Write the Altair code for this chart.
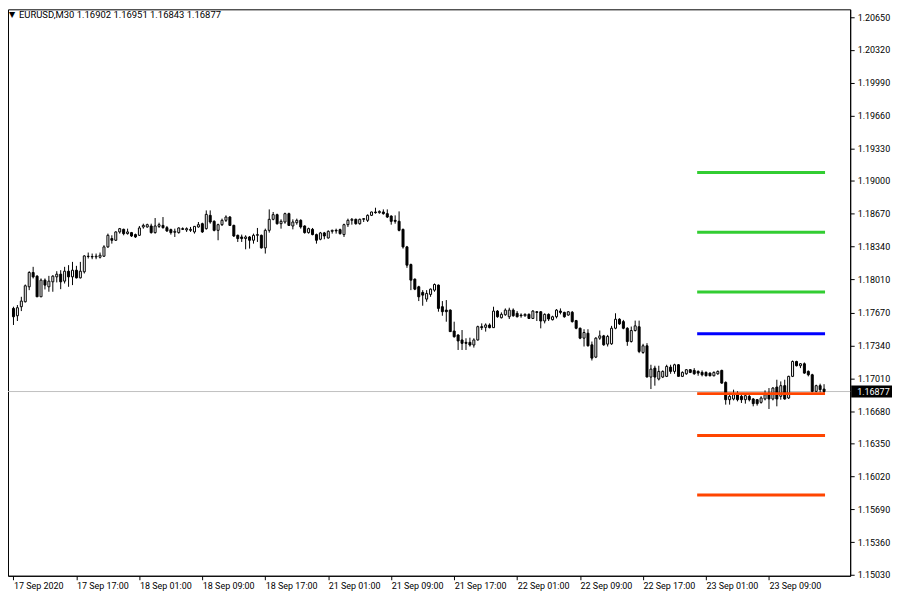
import altair as alt
import pandas as pd

symbol = "EURUSD,M30"

open_ = [
    1.17715, 1.17641, 1.17732, 1.17782, 1.17933, 1.18077, 1.18040, 1.17832, 1.18000, 1.17933,
    1.17983, 1.18033, 1.18060, 1.17990, 1.18090, 1.18033, 1.18100, 1.18023, 1.18084, 1.18238,
    1.18238, 1.18234, 1.18231, 1.18241, 1.18335, 1.18419, 1.18402, 1.18486, 1.18512, 1.18469,
    1.18479, 1.18459, 1.18452, 1.18536, 1.18536, 1.18546, 1.18479, 1.18542, 1.18552, 1.18529,
    1.18509, 1.18482, 1.18479, 1.18519, 1.18506, 1.18502, 1.18486, 1.18536, 1.18569, 1.18519,
    1.18653, 1.18593, 1.18502, 1.18559, 1.18603, 1.18636, 1.18552, 1.18452, 1.18435, 1.18419,
    1.18435, 1.18402, 1.18452, 1.18452, 1.18325, 1.18502, 1.18613, 1.18660, 1.18569, 1.18586,
    1.18670, 1.18546, 1.18579, 1.18603, 1.18546, 1.18479, 1.18512, 1.18459, 1.18412, 1.18476,
    1.18425, 1.18492, 1.18502, 1.18509, 1.18459, 1.18559, 1.18603, 1.18613, 1.18569, 1.18613,
    1.18603, 1.18653, 1.18687, 1.18680, 1.18687, 1.18670, 1.18646, 1.18603, 1.18593, 1.18512,
    1.18335, 1.18157, 1.18010, 1.17933, 1.17876, 1.17809, 1.17856, 1.17899, 1.17950, 1.17732,
    1.17698, 1.17698, 1.17487, 1.17447, 1.17397, 1.17373, 1.17373, 1.17346, 1.17397, 1.17531,
    1.17524, 1.17548, 1.17521, 1.17688, 1.17621, 1.17651, 1.17631, 1.17698, 1.17665, 1.17648,
    1.17641, 1.17655, 1.17614, 1.17681, 1.17681, 1.17588, 1.17655, 1.17601, 1.17631, 1.17688,
    1.17675, 1.17648, 1.17676, 1.17592, 1.17515, 1.17415, 1.17465, 1.17348, 1.17224, 1.17415,
    1.17438, 1.17355, 1.17358, 1.17515, 1.17606, 1.17582, 1.17515, 1.17381, 1.17492, 1.17530,
    1.17271, 1.17338, 1.17023, 1.17113, 1.17003, 1.17023, 1.17030, 1.17123, 1.17080, 1.17147,
    1.17030, 1.17056, 1.17097, 1.17090, 1.17080, 1.17070, 1.17070, 1.17063, 1.17036, 1.17056,
    1.17090, 1.16969, 1.16795, 1.16802, 1.16845, 1.16829, 1.16795, 1.16829, 1.16802, 1.16795,
    1.16768, 1.16802, 1.16862, 1.16802, 1.16922, 1.16829, 1.16936, 1.16812, 1.17030, 1.17180,
    1.17137, 1.17157, 1.17080, 1.17046, 1.16879, 1.16936, 1.16902,
]
high = [
    1.17732, 1.17749, 1.17832, 1.17956, 1.18090, 1.18134, 1.18050, 1.18017, 1.18017, 1.18043,
    1.18050, 1.18090, 1.18100, 1.18134, 1.18151, 1.18184, 1.18144, 1.18184, 1.18251, 1.18278,
    1.18268, 1.18268, 1.18278, 1.18352, 1.18469, 1.18452, 1.18492, 1.18526, 1.18519, 1.18519,
    1.18486, 1.18469, 1.18546, 1.18569, 1.18569, 1.18569, 1.18626, 1.18579, 1.18636, 1.18546,
    1.18519, 1.18519, 1.18532, 1.18532, 1.18532, 1.18536, 1.18546, 1.18586, 1.18579, 1.18703,
    1.18703, 1.18603, 1.18569, 1.18620, 1.18653, 1.18646, 1.18559, 1.18459, 1.18459, 1.18452,
    1.18445, 1.18469, 1.18526, 1.18459, 1.18519, 1.18713, 1.18687, 1.18670, 1.18613, 1.18680,
    1.18680, 1.18613, 1.18620, 1.18613, 1.18552, 1.18529, 1.18526, 1.18469, 1.18486, 1.18486,
    1.18502, 1.18509, 1.18519, 1.18519, 1.18569, 1.18620, 1.18626, 1.18620, 1.18620, 1.18626,
    1.18663, 1.18690, 1.18730, 1.18703, 1.18713, 1.18713, 1.18653, 1.18653, 1.18693, 1.18519,
    1.18345, 1.18167, 1.18017, 1.17943, 1.17899, 1.17899, 1.17916, 1.17966, 1.17956, 1.17789,
    1.17799, 1.17705, 1.17581, 1.17454, 1.17497, 1.17414, 1.17420, 1.17414, 1.17541, 1.17564,
    1.17564, 1.17564, 1.17732, 1.17698, 1.17675, 1.17715, 1.17722, 1.17715, 1.17688, 1.17665,
    1.17665, 1.17665, 1.17698, 1.17688, 1.17688, 1.17665, 1.17665, 1.17641, 1.17708, 1.17715,
    1.17681, 1.17688, 1.17689, 1.17599, 1.17522, 1.17505, 1.17505, 1.17381, 1.17425, 1.17492,
    1.17448, 1.17448, 1.17539, 1.17666, 1.17616, 1.17599, 1.17525, 1.17532, 1.17592, 1.17592,
    1.17358, 1.17365, 1.17147, 1.17137, 1.17137, 1.17090, 1.17147, 1.17147, 1.17157, 1.17153,
    1.17080, 1.17103, 1.17103, 1.17113, 1.17090, 1.17090, 1.17080, 1.17070, 1.17080, 1.17090,
    1.17097, 1.16979, 1.16845, 1.16896, 1.16879, 1.16845, 1.16845, 1.16845, 1.16812, 1.16802,
    1.16829, 1.16889, 1.16912, 1.16922, 1.16996, 1.16979, 1.16996, 1.17036, 1.17190, 1.17187,
    1.17164, 1.17170, 1.17090, 1.17056, 1.16946, 1.16956, 1.16951,
]
low = [
    1.17548, 1.17588, 1.17688, 1.17775, 1.17899, 1.18017, 1.17832, 1.17832, 1.17906, 1.17883,
    1.17883, 1.17977, 1.17909, 1.17966, 1.17933, 1.17950, 1.18017, 1.18017, 1.18067, 1.18218,
    1.18211, 1.18211, 1.18218, 1.18234, 1.18325, 1.18368, 1.18395, 1.18469, 1.18452, 1.18459,
    1.18435, 1.18425, 1.18445, 1.18519, 1.18529, 1.18469, 1.18469, 1.18526, 1.18519, 1.18486,
    1.18459, 1.18435, 1.18469, 1.18506, 1.18486, 1.18486, 1.18469, 1.18529, 1.18476, 1.18509,
    1.18569, 1.18492, 1.18402, 1.18546, 1.18586, 1.18546, 1.18435, 1.18385, 1.18385, 1.18311,
    1.18318, 1.18368, 1.18385, 1.18318, 1.18268, 1.18479, 1.18603, 1.18559, 1.18519, 1.18569,
    1.18546, 1.18512, 1.18559, 1.18519, 1.18469, 1.18469, 1.18452, 1.18368, 1.18402, 1.18412,
    1.18419, 1.18469, 1.18469, 1.18459, 1.18435, 1.18536, 1.18559, 1.18559, 1.18559, 1.18586,
    1.18586, 1.18646, 1.18670, 1.18670, 1.18660, 1.18626, 1.18559, 1.18569, 1.18492, 1.18318,
    1.18124, 1.17899, 1.17899, 1.17789, 1.17742, 1.17782, 1.17832, 1.17883, 1.17682, 1.17641,
    1.17581, 1.17481, 1.17420, 1.17296, 1.17296, 1.17296, 1.17330, 1.17320, 1.17390, 1.17497,
    1.17481, 1.17514, 1.17521, 1.17621, 1.17614, 1.17641, 1.17608, 1.17631, 1.17624, 1.17621,
    1.17631, 1.17608, 1.17608, 1.17588, 1.17514, 1.17564, 1.17588, 1.17594, 1.17614, 1.17655,
    1.17621, 1.17641, 1.17572, 1.17505, 1.17405, 1.17331, 1.17331, 1.17190, 1.17214, 1.17398,
    1.17338, 1.17331, 1.17348, 1.17505, 1.17549, 1.17505, 1.17338, 1.17371, 1.17482, 1.17264,
    1.17257, 1.17023, 1.16902, 1.16936, 1.16989, 1.17013, 1.17023, 1.17056, 1.17056, 1.17030,
    1.17023, 1.17046, 1.17063, 1.17046, 1.17036, 1.17030, 1.17030, 1.17030, 1.17030, 1.17046,
    1.16956, 1.16745, 1.16745, 1.16788, 1.16778, 1.16762, 1.16755, 1.16778, 1.16728, 1.16735,
    1.16755, 1.16788, 1.16701, 1.16788, 1.16728, 1.16795, 1.16795, 1.16802, 1.17023, 1.17130,
    1.17113, 1.17056, 1.17030, 1.16869, 1.16869, 1.16869, 1.16843,
]
close = [
    1.17631, 1.17722, 1.17789, 1.17943, 1.18077, 1.18033, 1.17832, 1.18000, 1.17950, 1.17990,
    1.18040, 1.18060, 1.17983, 1.18090, 1.18033, 1.18100, 1.18023, 1.18090, 1.18244, 1.18241,
    1.18234, 1.18241, 1.18251, 1.18335, 1.18452, 1.18402, 1.18486, 1.18519, 1.18469, 1.18486,
    1.18445, 1.18435, 1.18526, 1.18552, 1.18559, 1.18479, 1.18546, 1.18559, 1.18529, 1.18496,
    1.18479, 1.18492, 1.18526, 1.18512, 1.18519, 1.18512, 1.18542, 1.18559, 1.18486, 1.18663,
    1.18586, 1.18502, 1.18559, 1.18603, 1.18636, 1.18552, 1.18445, 1.18419, 1.18419, 1.18435,
    1.18402, 1.18452, 1.18459, 1.18325, 1.18502, 1.18613, 1.18660, 1.18569, 1.18593, 1.18670,
    1.18552, 1.18586, 1.18603, 1.18536, 1.18479, 1.18519, 1.18459, 1.18402, 1.18476, 1.18445,
    1.18492, 1.18502, 1.18496, 1.18469, 1.18559, 1.18603, 1.18613, 1.18569, 1.18613, 1.18620,
    1.18653, 1.18687, 1.18680, 1.18693, 1.18670, 1.18636, 1.18593, 1.18593, 1.18502, 1.18335,
    1.18151, 1.18000, 1.17909, 1.17832, 1.17849, 1.17866, 1.17909, 1.17956, 1.17715, 1.17682,
    1.17682, 1.17481, 1.17430, 1.17387, 1.17363, 1.17363, 1.17346, 1.17397, 1.17531, 1.17521,
    1.17548, 1.17521, 1.17688, 1.17631, 1.17655, 1.17698, 1.17698, 1.17641, 1.17631, 1.17641,
    1.17655, 1.17614, 1.17688, 1.17675, 1.17588, 1.17655, 1.17608, 1.17631, 1.17698, 1.17675,
    1.17631, 1.17681, 1.17582, 1.17515, 1.17415, 1.17472, 1.17338, 1.17214, 1.17415, 1.17438,
    1.17348, 1.17432, 1.17515, 1.17606, 1.17559, 1.17515, 1.17381, 1.17492, 1.17539, 1.17281,
    1.17338, 1.17023, 1.17103, 1.17023, 1.17080, 1.17080, 1.17130, 1.17080, 1.17147, 1.17030,
    1.17070, 1.17097, 1.17070, 1.17056, 1.17063, 1.17046, 1.17036, 1.17036, 1.17070, 1.17080,
    1.16962, 1.16795, 1.16829, 1.16845, 1.16795, 1.16795, 1.16835, 1.16795, 1.16755, 1.16755,
    1.16812, 1.16845, 1.16802, 1.16912, 1.16802, 1.16936, 1.16802, 1.17030, 1.17180, 1.17137,
    1.17157, 1.17063, 1.17046, 1.16879, 1.16936, 1.16896, 1.16877,
]

time_labels = [
    "17 Sep 2020", "17 Sep 17:00", "18 Sep 01:00", "18 Sep 09:00", "18 Sep 17:00",
    "21 Sep 01:00", "21 Sep 09:00", "21 Sep 17:00", "22 Sep 01:00", "22 Sep 09:00",
    "22 Sep 17:00", "23 Sep 01:00", "23 Sep 09:00",
]
bars_per_label = 16

y_ticks = [
    1.20650, 1.20320, 1.19990, 1.19660, 1.19330, 1.19000, 1.18670, 1.18340, 1.18010,
    1.17670, 1.17340, 1.17010, 1.16680, 1.16350, 1.16020, 1.15690, 1.15360, 1.15030,
]

pivot_names = ["R3", "R2", "R1", "P", "S1", "S2", "S3"]
pivot_values = [1.19084, 1.18482, 1.17880, 1.17459, 1.16856, 1.16435, 1.15833]
pivot_colors = ["#32CD32", "#32CD32", "#32CD32", "#0000FF", "#FF4500", "#FF4500", "#FF4500"]
pivot_from_bar = 173.75
pivot_to_bar = 206.25

n = len(close)
df = pd.DataFrame({"i": list(range(n)), "open": open_, "high": high, "low": low, "close": close})
df["fill"] = ["white" if c >= o else "black" for o, c in zip(open_, close)]

piv = pd.DataFrame({"name": pivot_names, "value": pivot_values, "color": pivot_colors,
                    "x0": [pivot_from_bar] * 7, "x1": [pivot_to_bar] * 7})

bid = close[-1]
header = f"{symbol}  {open_[-1]:.5f} {high[-1]:.5f} {low[-1]:.5f} {close[-1]:.5f}"

FONT = "Roboto"
W, H = 846, 569
x_scale = alt.Scale(domain=[-0.125, 211.375], nice=False, zero=False)
y_scale = alt.Scale(domain=[1.15020, 1.20730], nice=False, zero=False)

label_expr = "[" + ",".join(f"'{s}'" for s in time_labels) + f"][round(datum.value/{bars_per_label})]"
x_axis = alt.Axis(values=[k * bars_per_label for k in range(len(time_labels))], labelExpr=label_expr,
                  labelAlign="left", labelPadding=2, tickSize=4, grid=False, title=None,
                  labelFont=FONT, labelFontSize=9, labelColor="black", tickColor="black",
                  domainColor="black", labelFlush=False, labelOverlap=False)
y_axis = alt.Axis(orient="right", values=y_ticks, format=".5f", tickSize=4, labelPadding=3,
                  grid=False, title=None, labelFont=FONT, labelFontSize=9, labelColor="black",
                  tickColor="black", domainColor="black", labelOverlap=False, labelFlush=False)

base = alt.Chart(df)

bid_line = alt.Chart(pd.DataFrame({"v": [bid]})).mark_rule(color="#C0C0C0", strokeWidth=1).encode(
    y=alt.Y("v:Q", scale=y_scale, axis=y_axis)
)

wicks = base.mark_rule(color="black", strokeWidth=1).encode(
    x=alt.X("i:Q", scale=x_scale, axis=x_axis),
    y=alt.Y("low:Q", scale=y_scale, axis=y_axis),
    y2="high:Q",
)

bodies = base.mark_bar(width=2, stroke="black", strokeWidth=1).encode(
    x=alt.X("i:Q", scale=x_scale, axis=x_axis),
    y=alt.Y("open:Q", scale=y_scale, axis=y_axis),
    y2="close:Q",
    fill=alt.Fill("fill:N", scale=None),
)

pivots = alt.Chart(piv).mark_rule(strokeWidth=3).encode(
    x=alt.X("x0:Q", scale=x_scale, axis=x_axis),
    x2="x1:Q",
    y=alt.Y("value:Q", scale=y_scale, axis=y_axis),
    color=alt.Color("color:N", scale=None),
)

box = alt.Chart(pd.DataFrame({"v": [bid]})).mark_rect(color="black", yOffset=-6, y2Offset=6).encode(
    x=alt.value(W + 1), x2=alt.value(W + 42),
    y=alt.Y("v:Q", scale=y_scale, axis=y_axis), y2="v:Q",
)
box_text = alt.Chart(pd.DataFrame({"v": [bid], "t": [f"{bid:.5f}"]})).mark_text(
    align="left", baseline="middle", color="white", font=FONT, fontSize=9
).encode(x=alt.value(W + 7), y=alt.Y("v:Q", scale=y_scale, axis=y_axis), text="t:N")

tri = alt.Chart(pd.DataFrame({"t": ["\u25bc"]})).mark_text(
    align="left", baseline="top", color="black", font="DejaVu Sans", fontSize=8
).encode(x=alt.value(1), y=alt.value(2), text="t:N")
head = alt.Chart(pd.DataFrame({"t": [header]})).mark_text(
    align="left", baseline="top", color="black", font=FONT, fontSize=9.5
).encode(x=alt.value(11), y=alt.value(1), text="t:N")

chart = alt.layer(bid_line, wicks, bodies, pivots, box, box_text, tri, head).properties(
    width=W, height=H,
    autosize=alt.AutoSizeParams(type="none"),
    padding={"left": 0, "top": 0, "right": 42, "bottom": 16},
    background="white",
).configure_view(stroke="black", strokeWidth=1).configure_axis(labelOverlap=False)

chart.save("out.html", embed_options={"renderer": "svg", "actions": False})
